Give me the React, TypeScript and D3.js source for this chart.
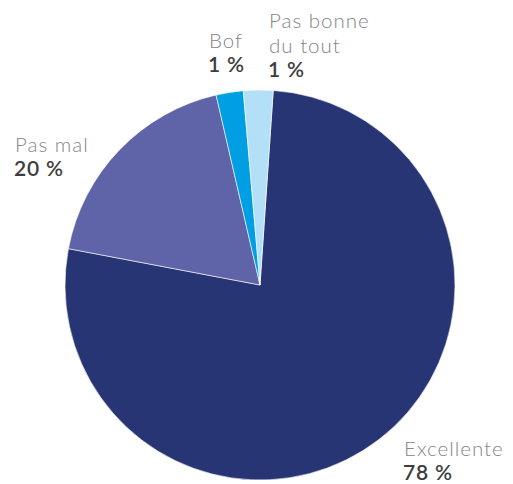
import React from "react";
import * as d3 from "d3";

const categories = ["Excellente", "Pas mal", "Bof", "Pas bonne du tout"];
const values = [76.9, 18.4, 2.25, 2.45];
const labelLines = [["Excellente"], ["Pas mal"], ["Bof"], ["Pas bonne", "du tout"]];
const percentLabels = ["78 %", "20 %", "1 %", "1 %"];
const colors = ["#283574", "#5f63a8", "#009fe3", "#b3e0f7"];

const W = 513;
const H = 484;
const cx = 260;
const cy = 285;
const R = 195;
const startDeg = 3.9;

// label anchor positions (left, first baseline)
const labelPos: [number, number][] = [
  [404, 456],
  [15, 152],
  [209, 48],
  [269, 28],
];

export default function App() {
  const pie = d3
    .pie<number>()
    .sort(null)
    .value((d) => d)
    .startAngle((startDeg * Math.PI) / 180)
    .endAngle((startDeg * Math.PI) / 180 + 2 * Math.PI);
  const arcs = pie(values);
  const arc = d3.arc<d3.PieArcDatum<number>>().innerRadius(0).outerRadius(R);
  const lh = 25;
  return (
    <svg
      width={W}
      height={H}
      style={{ position: "absolute", left: 0, top: 0, background: "#fff" }}
      fontFamily="Lato, 'Noto Sans', sans-serif"
    >
      <g transform={`translate(${cx},${cy})`}>
        {arcs.map((a, i) => (
          <path key={categories[i]} d={arc(a) || ""} fill={colors[i]} stroke="#ffffff" strokeWidth={0.6} />
        ))}
      </g>
      {categories.map((c, i) => {
        const [x, y] = labelPos[i];
        const lines = labelLines[i];
        return (
          <g key={c}>
            <text x={x} y={y} fontSize={20.5} fontWeight={300} fill="#858585" letterSpacing={1}>
              {lines.map((l, j) => (
                <tspan key={j} x={x} y={y + j * lh}>
                  {l}
                </tspan>
              ))}
            </text>
            <text x={x - 1} y={y + lines.length * lh - 1} fontSize={21} fontWeight={600} fill="#3d3d3d" letterSpacing={0.8}>
              {percentLabels[i]}
            </text>
          </g>
        );
      })}
    </svg>
  );
}
